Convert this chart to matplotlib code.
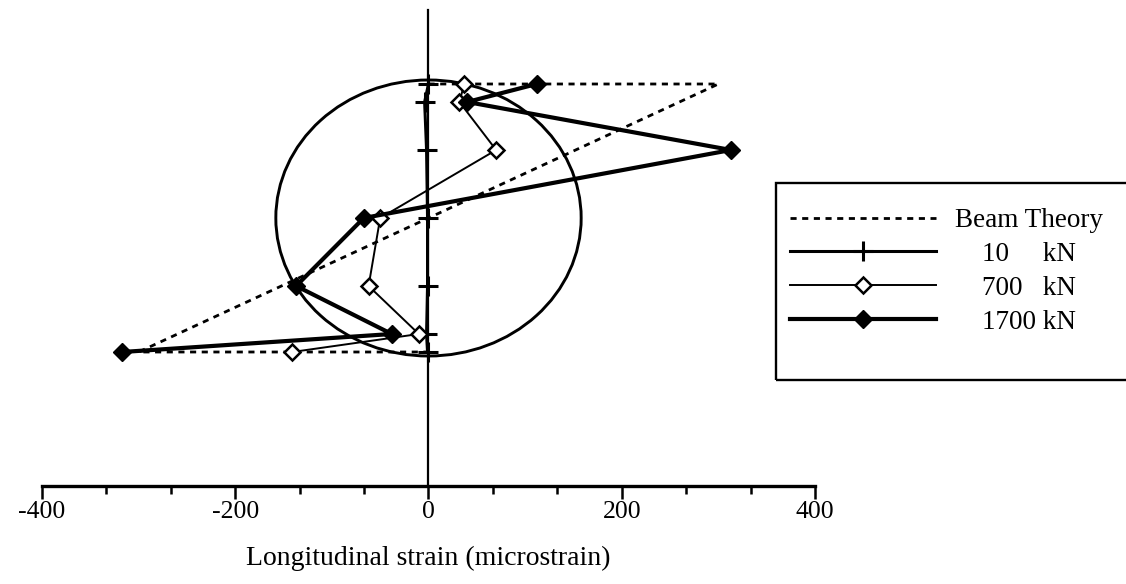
import matplotlib
matplotlib.use('Agg')
import matplotlib.pyplot as plt
import numpy as np
from matplotlib.patches import Ellipse, Rectangle

plt.rcParams['font.family'] = ['Liberation Serif', 'DejaVu Serif']
plt.rcParams['axes.unicode_minus'] = False

# gauge positions across the section (same units as the drawing height)
gauge_y = [134, 116, 68, 0, -68, -116, -134]

# strains in microstrain
strain_10 = [0, -4, -2, -1, -1, -2, -1]
strain_700 = [37, 32, 70, -50, -62, -10, -141]
strain_1700 = [112, 40, 313, -67, -137, -38, -317]

# beam theory outline
beam_x = [0, 300, -300, 0]
beam_y = [134, 134, -134, -134]

# section outline (ellipse in data units)
section_w = 316
section_h = 276

fig = plt.figure(figsize=(11.26, 5.84), dpi=100)
ax = fig.add_axes([42 / 1126, (584 - 486) / 584, (815 - 42) / 1126, (486 - 10) / 584])
ax.set_xlim(-400, 400)
ax.set_ylim(-268, 208)

ax.add_patch(Ellipse((0, 0), section_w, section_h, fill=False, ec='black', lw=2.1, zorder=2))

ax.plot(beam_x, beam_y, color='black', lw=2.0, linestyle=(0, (2.2, 2.0)),
        label='Beam Theory', zorder=3)
ax.plot(strain_10, gauge_y, color='black', lw=2.2, marker='+', ms=15, mew=2.2,
        label='    10     kN', zorder=4)
ax.plot(strain_700, gauge_y, color='black', lw=1.4, marker='D', ms=8, mfc='white',
        mec='black', mew=1.8, label='    700   kN', zorder=5)
ax.plot(strain_1700, gauge_y, color='black', lw=3.0, marker='D', ms=9, mfc='black',
        mec='black', label='    1700 kN', zorder=6)

for s in ['top', 'right']:
    ax.spines[s].set_visible(False)
ax.spines['left'].set_position(('data', 0))
ax.spines['left'].set_linewidth(1.6)
ax.spines['bottom'].set_linewidth(2.4)
ax.set_yticks([])

ax.set_xticks([-400, -200, 0, 200, 400])
ax.set_xticks(np.arange(-400, 401, 200 / 3), minor=True)
ax.tick_params(axis='x', which='major', direction='out', length=9, width=1.8,
               labelsize=18.5, pad=2)
ax.tick_params(axis='x', which='minor', direction='out', length=5.5, width=1.8)
ax.set_xlabel('Longitudinal strain (microstrain)', fontsize=20, labelpad=16)

leg = ax.legend(loc='upper left', bbox_to_anchor=(790 / 1126, 1 - 208 / 584),
                bbox_transform=fig.transFigure, frameon=False, fontsize=19.5,
                handlelength=5.4, handletextpad=0.7, labelspacing=0.33,
                borderpad=0, borderaxespad=0)

fig.add_artist(Rectangle((776 / 1126, 1 - 380 / 584), (1135 - 776) / 1126, (380 - 183) / 584,
                         transform=fig.transFigure, fill=False, ec='black', lw=1.7))

fig.savefig('out.png', dpi=100)
